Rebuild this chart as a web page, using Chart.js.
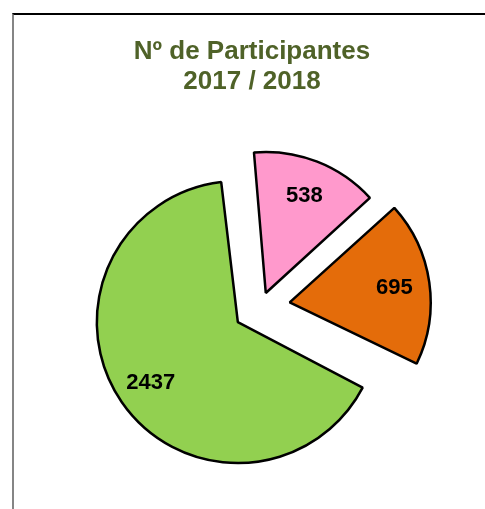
<!DOCTYPE html>
<html lang="pt">
<head>
  <meta charset="UTF-8" />
  <title>Nº de Participantes 2017 / 2018</title>
  <script src="https://cdn.jsdelivr.net/npm/chart.js"></script>
  <style>
    html, body {
      margin: 0;
      padding: 0;
      background: #fff;
      overflow: hidden;
    }
    .page {
      position: relative;
      width: 485px;
      height: 509px;
    }
    .frame {
      position: absolute;
      left: 12px;
      top: 13px;
      right: -10px;
      bottom: -10px;
      border-top: 2px solid #000;
      border-left: 2px solid #858585;
    }
    .title {
      position: absolute;
      left: 0;
      top: 35px;
      width: 504px;
      text-align: center;
      font: bold 26px 'Liberation Sans', Arial, sans-serif;
      line-height: 30px;
      color: #4f6228;
    }
    .chart-box {
      position: absolute;
      left: 0;
      top: 0;
      width: 485px;
      height: 509px;
    }
  </style>
</head>
<body>
  <div class="page">
    <div class="frame"></div>
    <div class="chart-box"><canvas id="pie"></canvas></div>
    <div class="title">Nº de Participantes<br>2017 / 2018</div>
  </div>

  <script>
    const categories = ['Grupo 1', 'Grupo 2', 'Grupo 3'];
    const participants = [538, 695, 2437];

    const RADIUS = 141;

    // chart.js grows the radius of exploded slices, undo that so all share one radius
    const keepRadius = {
      id: 'keepRadius',
      afterDatasetsUpdate(chart) {
        const ds = chart.data.datasets[0];
        chart.getDatasetMeta(0).data.forEach((arc, i) => {
          const off = (ds.offset[i] || 0) / 4;
          const circ = arc.endAngle - arc.startAngle;
          arc.outerRadius = RADIUS - off * (1 - Math.sin(Math.min(Math.PI, circ)));
        });
      }
    };

    const valueLabels = {
      id: 'valueLabels',
      afterDatasetsDraw(chart) {
        const ctx = chart.ctx;
        const ds = chart.data.datasets[0];
        ctx.save();
        ctx.fillStyle = '#000';
        ctx.font = 'bold 22px "Liberation Sans", Arial, sans-serif';
        ctx.textAlign = 'center';
        ctx.textBaseline = 'middle';
        chart.getDatasetMeta(0).data.forEach((arc, i) => {
          const mid = (arc.startAngle + arc.endAngle) / 2;
          const dist = (ds.offset[i] || 0) / 4 + RADIUS * 0.75;
          ctx.fillText(String(ds.data[i]), arc.x + Math.cos(mid) * dist, arc.y + Math.sin(mid) * dist + 1);
        });
        ctx.restore();
      }
    };

    new Chart(document.getElementById('pie'), {
      type: 'pie',
      data: {
        labels: categories,
        datasets: [{
          data: participants,
          backgroundColor: ['#ff99cc', '#e46c0a', '#92d050'],
          borderColor: '#000',
          borderWidth: 2.5,
          offset: [58, 118, 110],
          clip: false
        }]
      },
      options: {
        responsive: true,
        maintainAspectRatio: false,
        animation: false,
        rotation: -5,
        radius: RADIUS,
        layout: { padding: { left: 36, right: 0, top: 110, bottom: 6 } },
        plugins: {
          legend: { display: false },
          tooltip: { enabled: false },
          title: { display: false }
        },
        events: []
      },
      plugins: [keepRadius, valueLabels]
    });
  </script>
</body>
</html>
